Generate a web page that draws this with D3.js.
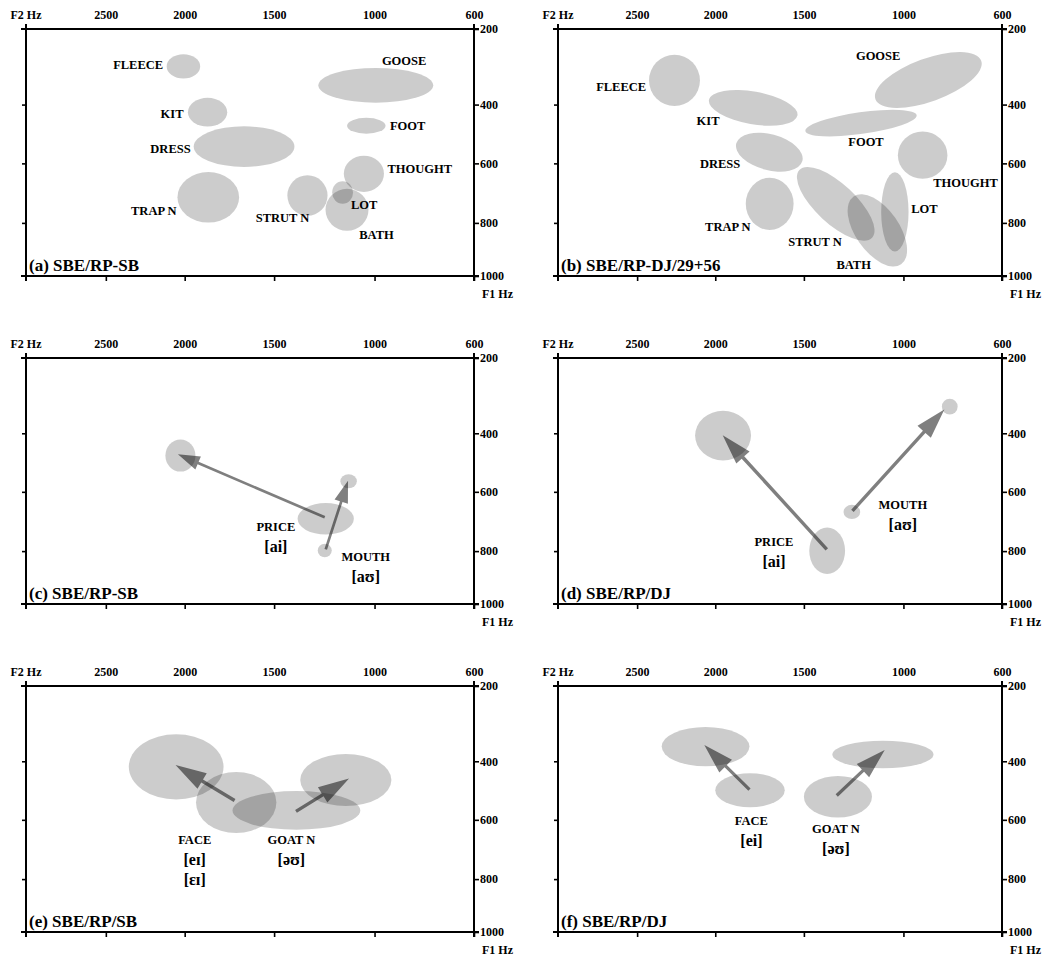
<!DOCTYPE html>
<html><head><meta charset="utf-8">
<script src="https://cdn.jsdelivr.net/npm/d3@7"></script>
<style>
body{margin:0;background:#fff}
svg text{font-family:"Liberation Serif","Times New Roman",serif;font-weight:bold;fill:#000}
</style>
</head><body>
<svg id="chart" width="1047" height="958"></svg>
<script>
// ---------- data ----------
const f2Domain = [3000, 2500, 2000, 1500, 1000, 600];
const f1Domain = [200, 400, 600, 800, 1000];
const f2Ticks = [2500, 2000, 1500, 1000, 600];
const f1Ticks = [200, 400, 600, 800, 1000];
const f1LeftTicks = [400, 600, 800];
const panelTitles = ["(a) SBE/RP-SB", "(b) SBE/RP-DJ/29+56", "(c) SBE/RP-SB", "(d) SBE/RP/DJ", "(e) SBE/RP/SB", "(f) SBE/RP/DJ"];

// ellipses: [vowel, F2 Hz, F1 Hz, spread F2 Hz, spread F1 Hz, tilt deg]
const ellipsesA = [
  ["FLEECE", 2008, 299, 100, 32, 0],
  ["KIT", 1872, 426, 110, 46, 0],
  ["DRESS", 1668, 543, 275, 69, 0],
  ["TRAP N", 1868, 714, 175, 85, 0],
  ["STRUT N", 1334, 708, 100, 68, 0],
  ["LOT", 1159, 698, 52, 38, 0],
  ["BATH", 1137, 756, 107, 72, 0],
  ["THOUGHT", 1053, 635, 95, 61, 0],
  ["FOOT", 1041, 472, 90, 27, 0],
  ["GOOSE", 995, 349, 255, 46, 0]
];
const ellipsesB = [
  ["FLEECE", 2261, 336, 163, 68, 0],
  ["KIT", 1786, 411, 256, 50, 10],
  ["DRESS", 1695, 562, 193, 61, 15],
  ["TRAP N", 1693, 736, 135, 89, 0],
  ["STRUT N", 1340, 736, 255, 67, 43],
  ["BATH", 1131, 828, 200, 79, 55],
  ["LOT", 1043, 763, 66, 139, 0],
  ["THOUGHT", 922, 572, 103, 80, 0],
  ["FOOT", 1213, 463, 275, 37, -8],
  ["GOOSE", 899, 335, 242, 57, -20]
];
const ellipsesC = [
  ["PRICE offset", 2027, 476, 91, 55, 0],
  ["PRICE onset", 1243, 691, 140, 53, 0],
  ["MOUTH onset", 1248, 798, 35, 24, 0],
  ["MOUTH offset", 1129, 564, 41, 24, 0]
];
const ellipsesD = [
  ["PRICE offset", 1956, 408, 165, 75, 0],
  ["PRICE onset", 1383, 799, 90, 83, 0],
  ["MOUTH onset", 1259, 668, 42, 24, 0],
  ["MOUTH offset", 812, 329, 32, 21, 0]
];
const ellipsesE = [
  ["FACE offset", 2054, 419, 285, 100, 0],
  ["FACE onset", 1712, 541, 224, 104, 0],
  ["GOAT onset", 1389, 568, 330, 66, 0],
  ["GOAT offset", 1143, 464, 218, 86, 0]
];
const ellipsesF = [
  ["FACE offset", 2062, 361, 267, 54, 0],
  ["FACE onset", 1804, 499, 196, 58, 0],
  ["GOAT offset", 1103, 382, 238, 39, 0],
  ["GOAT onset", 1329, 521, 171, 71, 0]
];

// arrows: [name, from F2, from F1, to F2, to F1]
const arrowsC = [["PRICE", 1248, 686, 2043, 472], ["MOUTH", 1243, 794, 1132, 562]];
const arrowsD = [["PRICE", 1385, 794, 1958, 407], ["MOUTH", 1256, 664, 834, 337]];
const arrowsE = [["FACE", 1721, 534, 2058, 413], ["GOAT", 1391, 571, 1127, 459]];
const arrowsF = [["FACE", 1807, 497, 2070, 357], ["GOAT", 1335, 517, 1094, 370]];

// labels: [name, F2 Hz, F1 Hz, transcription lines]
const labelsA = [
  ["FLEECE", 2295, 307, []], ["KIT", 2080, 444, []], ["DRESS", 2090, 566, []],
  ["TRAP N", 2196, 773, []], ["STRUT N", 1458, 797, []], ["LOT", 1052, 753, []],
  ["BATH", 992, 860, []], ["THOUGHT", 818, 633, []], ["FOOT", 867, 488, []],
  ["GOOSE", 881, 296, []]
];
const labelsB = [
  ["GOOSE", 1127, 283, []], ["FLEECE", 2601, 363, []], ["KIT", 2046, 469, []],
  ["FOOT", 1188, 542, []], ["DRESS", 1973, 616, []], ["THOUGHT", 748, 679, []],
  ["LOT", 915, 766, []], ["TRAP N", 1929, 830, []], ["STRUT N", 1444, 886, []],
  ["BATH", 1250, 972, []]
];
const labelsC = [["PRICE", 1491, 731, ["[ai]"]], ["MOUTH", 1044, 837, ["[aʊ]"]]];
const labelsD = [["MOUTH", 1003, 659, ["[aʊ]"]], ["PRICE", 1669, 782, ["[ai]"]]];
const labelsE = [["FACE", 1944, 681, ["[eɪ]", "[ɛɪ]"]], ["GOAT N", 1414, 681, ["[əʊ]"]]];
const labelsF = [["FACE", 1796, 617, ["[ei]"]], ["GOAT N", 1339, 643, ["[əʊ]"]]];

// ---------- layout ----------
const colX = [26, 558], colW = [448, 444];
const rowY = [29, 358, 686], rowH = [247, 246, 246];
const xFrac = [0, 0.1782, 0.3542, 0.5538, 0.7780, 1];
const yFrac = [0, 0.306, 0.544, 0.785, 1];

const panels = [
  {col:0,row:0,ell:ellipsesA,arr:[],lab:labelsA,head:[22,7,1.3]},
  {col:1,row:0,ell:ellipsesB,arr:[],lab:labelsB,head:[22,7,1.3]},
  {col:0,row:1,ell:ellipsesC,arr:arrowsC,lab:labelsC,head:[22,7,1.35]},
  {col:1,row:1,ell:ellipsesD,arr:arrowsD,lab:labelsD,head:[30,9,1.7]},
  {col:0,row:2,ell:ellipsesE,arr:arrowsE,lab:labelsE,head:[31,9,1.7]},
  {col:1,row:2,ell:ellipsesF,arr:arrowsF,lab:labelsF,head:[30,9,1.6]}
];

const svg = d3.select("#chart");

panels.forEach((p, i) => {
  const x0 = colX[p.col], w = colW[p.col], y0 = rowY[p.row], h = rowH[p.row];
  const x1 = x0 + w, y1 = y0 + h;
  const x = d3.scaleLinear().domain(f2Domain).range(xFrac.map(f => x0 + f * w));
  const y = d3.scaleLinear().domain(f1Domain).range(yFrac.map(f => y0 + f * h));
  const g = svg.append("g");

  // ellipses
  g.selectAll("ellipse").data(p.ell).join("ellipse")
    .each(function(d) {
      const cx = x(d[1]), cy = y(d[2]);
      const rx = (x(d[1] - d[3]) - x(d[1] + d[3])) / 2;
      const ry = (y(d[2] + d[4]) - y(d[2] - d[4])) / 2;
      d3.select(this).attr("cx", cx).attr("cy", cy).attr("rx", rx).attr("ry", ry)
        .attr("transform", d[5] ? `rotate(${d[5]},${cx},${cy})` : null);
    })
    .attr("fill", "#000").attr("fill-opacity", 0.2);

  // arrows (single polygon: shaft + head)
  const [L, H, s] = p.head;
  g.selectAll("path.arrow").data(p.arr).join("path").attr("class", "arrow")
    .attr("d", d => {
      const ax = x(d[1]), ay = y(d[2]), tx = x(d[3]), ty = y(d[4]);
      const dx = tx - ax, dy = ty - ay, len = Math.hypot(dx, dy);
      const ux = dx / len, uy = dy / len, nx = -uy, ny = ux;
      const bx = tx - ux * L, by = ty - uy * L;
      const pts = [
        [ax + nx * s, ay + ny * s], [bx + nx * s, by + ny * s], [bx + nx * H, by + ny * H],
        [tx, ty], [bx - nx * H, by - ny * H], [bx - nx * s, by - ny * s], [ax - nx * s, ay - ny * s]
      ];
      return "M" + pts.map(q => q.join(",")).join("L") + "Z";
    })
    .attr("fill", "#000").attr("fill-opacity", 0.5);

  // labels
  p.lab.forEach(d => {
    const lx = x(d[1]), ly = y(d[2]);
    g.append("text").attr("x", lx).attr("y", ly).attr("text-anchor", "middle")
      .attr("font-size", 12.5).text(d[0]);
    d[3].forEach((t, k) => {
      g.append("text").attr("x", lx).attr("y", ly + 21 + k * 20).attr("text-anchor", "middle")
        .attr("font-size", 16).text(t);
    });
  });

  // axes
  const axB = g.append("g").attr("transform", `translate(0,${y1})`)
    .call(d3.axisBottom(x).tickValues(f2Ticks).tickSize(5).tickFormat(""));
  const axT = g.append("g").attr("transform", `translate(0,${y0})`)
    .call(d3.axisTop(x).tickValues(f2Ticks).tickSize(0).tickPadding(10).tickFormat(d3.format("d")));
  const axL = g.append("g").attr("transform", `translate(${x0},0)`)
    .call(d3.axisLeft(y).tickValues(f1LeftTicks).tickSize(4).tickFormat(""));
  const axR = g.append("g").attr("transform", `translate(${x1},0)`)
    .call(d3.axisRight(y).tickValues(f1Ticks).tickSize(5).tickPadding(1).tickFormat(d3.format("d")));
  [axB, axT, axL, axR].forEach(a => {
    a.select(".domain").remove();
    a.selectAll("line").attr("stroke", "#000").attr("stroke-width", 1.6);
    a.selectAll("text").attr("font-size", 12).attr("font-family", null).attr("fill", "#000");
  });
  axT.selectAll("text").attr("dy", 0);

  // frame with slightly extended lines
  const e = 5;
  const frame = [
    [x0 - e, y0, x1 + e, y0], [x0 - e, y1, x1 + e, y1],
    [x0, y0 - e, x0, y1 + e], [x1, y0 - e, x1, y1 + e]
  ];
  g.selectAll("line.frame").data(frame).join("line").attr("class", "frame")
    .attr("x1", d => d[0]).attr("y1", d => d[1]).attr("x2", d => d[2]).attr("y2", d => d[3])
    .attr("stroke", "#000").attr("stroke-width", 2);

  g.append("text").attr("x", x0).attr("y", y0 - 10).attr("text-anchor", "middle")
    .attr("font-size", 12).text("F2 Hz");
  g.append("text").attr("x", x1 + 8).attr("y", y1 + 22).attr("font-size", 12).text("F1 Hz");
  g.append("text").attr("x", x0 + 3).attr("y", y1 - 5).attr("font-size", 17).text(panelTitles[i]);
});
</script>
</body></html>
